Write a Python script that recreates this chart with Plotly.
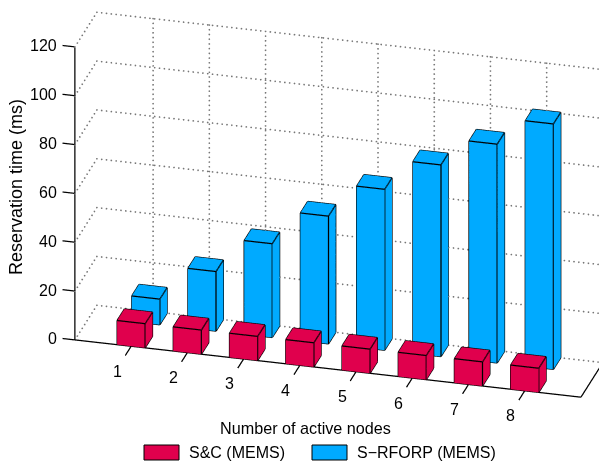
import math
import plotly.graph_objects as go

nodes = [1, 2, 3, 4, 5, 6, 7, 8]
sc_mems = [9.9, 9.9, 9.9, 9.9, 9.9, 9.9, 9.9, 9.9]
rforp_mems = [10.5, 24.4, 38.4, 52.3, 65.9, 78.5, 89.6, 100.5]
z_ticks = [0, 20, 40, 60, 80, 100, 120]
RED = "#E0004D"
BLUE = "#00AAFF"
FONT = "Liberation Sans"

AZ, EL = math.radians(15), math.radians(25)
XR, YR, ZR = [-0.25, 9.2], [0.35, 2.4], [-3, 123]
Y_FRONT, Y_BACK = 0.75, 2.25
S = 233.0  # px per scene unit
LX = 525 / 9 * (XR[1] - XR[0]) / S
LY = 85 / 1.5 * (YR[1] - YR[0]) / S
LZ = 2.7 * (ZR[1] - ZR[0]) / S
R = 1.5
PX_SHIFT, PY_SHIFT = 36.25, 25.1

right = (math.cos(AZ), math.sin(AZ), 0)
up = (-math.sin(AZ) * math.sin(EL), math.cos(AZ) * math.sin(EL), math.cos(EL))
d = (math.sin(AZ) * math.cos(EL), -math.cos(AZ) * math.cos(EL), math.sin(EL))
center = [-(PX_SHIFT * right[i] + PY_SHIFT * up[i]) / S for i in range(3)]
eye = [center[i] + d[i] * R for i in range(3)]


def bars(values, y_pos, color, name):
    xs, ys, zs, i, j, k, lx, ly, lz = [], [], [], [], [], [], [], [], []
    for n, v in zip(nodes, values):
        b = len(xs)
        x0, x1, y0, y1 = n - 0.25, n + 0.25, y_pos - 0.25, y_pos + 0.25
        xs += [x0, x1, x1, x0, x0, x1, x1, x0]
        ys += [y0, y0, y1, y1, y0, y0, y1, y1]
        zs += [0, 0, 0, 0, v, v, v, v]
        for t in [(0,1,2),(0,2,3),(4,5,6),(4,6,7),(0,1,5),(0,5,4),(1,2,6),(1,6,5),(2,3,7),(2,7,6),(3,0,4),(3,4,7)]:
            i.append(b + t[0]); j.append(b + t[1]); k.append(b + t[2])
        for e in [(0,1),(1,2),(2,3),(3,0),(4,5),(5,6),(6,7),(7,4),(0,4),(1,5),(2,6),(3,7)]:
            for q in e:
                lx.append(xs[b + q]); ly.append(ys[b + q]); lz.append(zs[b + q])
            lx.append(None); ly.append(None); lz.append(None)
    mesh = go.Mesh3d(x=xs, y=ys, z=zs, i=i, j=j, k=k, color=color, flatshading=True, name=name,
                     lighting=dict(ambient=1, diffuse=0, specular=0, roughness=1, fresnel=0),
                     hoverinfo="skip", showscale=False)
    edges = go.Scatter3d(x=lx, y=ly, z=lz, mode="lines", line=dict(color="black", width=2.5),
                         hoverinfo="skip", showlegend=False)
    return [mesh, edges]


def seg_trace(segs, color, width):
    lx, ly, lz = [], [], []
    for a, b in segs:
        lx += [a[0], b[0], None]; ly += [a[1], b[1], None]; lz += [a[2], b[2], None]
    return go.Scatter3d(x=lx, y=ly, z=lz, mode="lines", line=dict(color=color, width=width),
                        hoverinfo="skip", showlegend=False)


def dotted(segs, steps):
    px, py, pz = [], [], []
    for (a, b), n in zip(segs, steps):
        for t in range(n + 1):
            f = t / n
            px.append(a[0] + (b[0] - a[0]) * f)
            py.append(a[1] + (b[1] - a[1]) * f)
            pz.append(a[2] + (b[2] - a[2]) * f)
    return go.Scatter3d(x=px, y=py, z=pz, mode="markers",
                        marker=dict(size=1, color="#777777", line=dict(width=0)),
                        hoverinfo="skip", showlegend=False)


grid, steps = [], []
for z in z_ticks:
    grid.append(((0, Y_FRONT, z), (0, Y_BACK, z))); steps.append(9)
    grid.append(((0, Y_BACK, z), (9, Y_BACK, z))); steps.append(105)
for n in nodes:
    grid.append(((n, Y_BACK, 0), (n, Y_BACK, 120))); steps.append(62)

axes = [((0, Y_FRONT, 0), (9, Y_FRONT, 0)), ((0, Y_FRONT, 0), (0, Y_FRONT, 120)), ((9, Y_FRONT, 0), (9, Y_BACK, 0))]
for z in z_ticks:
    axes.append(((0, Y_FRONT, z), (-0.22, Y_FRONT, z)))
for n in nodes:
    axes.append(((n, Y_FRONT, 0), (n, 0.75 - 0.42, 0)))

fig = go.Figure()
fig.add_trace(dotted(grid, steps))
fig.add_trace(seg_trace(axes, "black", 2.5))
for t in bars(rforp_mems, 2, BLUE, "S-RFORP (MEMS)") + bars(sc_mems, 1, RED, "S&C (MEMS)"):
    fig.add_trace(t)

scene_ann = []
for z in z_ticks:
    scene_ann.append(dict(x=0, y=Y_FRONT, z=z, text=str(z), showarrow=False, xanchor="right", yanchor="middle",
                          xshift=-16, yshift=1, font=dict(family=FONT, size=16, color="black")))
for n in nodes:
    scene_ann.append(dict(x=n, y=Y_FRONT, z=0, text=str(n), showarrow=False, xanchor="center", yanchor="middle",
                          xshift=-14, yshift=-25, font=dict(family=FONT, size=16, color="black")))

hidden = dict(visible=False, showgrid=False, zeroline=False, showspikes=False, autorange=False)


def label(x, y, text, size=16, **kw):
    return dict(x=x / 599, y=1 - y / 465, xref="paper", yref="paper", text=text, showarrow=False,
                yanchor="middle", font=dict(family=FONT, size=size, color="black"), **kw)


fig.update_layout(
    width=599, height=465, margin=dict(l=0, r=0, t=0, b=0), paper_bgcolor="white", showlegend=False,
    scene=dict(
        domain=dict(x=[0, 1], y=[0, 1]),
        xaxis=dict(hidden, range=XR), yaxis=dict(hidden, range=YR), zaxis=dict(hidden, range=ZR),
        aspectmode="manual", aspectratio=dict(x=LX, y=LY, z=LZ),
        camera=dict(projection=dict(type="orthographic"), up=dict(x=0, y=0, z=1),
                    center=dict(x=center[0], y=center[1], z=center[2]),
                    eye=dict(x=eye[0], y=eye[1], z=eye[2])),
        annotations=scene_ann,
    ),
    annotations=[
        label(305.5, 428, "Number of active nodes", size=16.2, xanchor="center"),
        label(16, 187, "Reservation time (ms)", size=18, xanchor="center", textangle=-90),
        label(187, 452, "S&amp;C (MEMS)", xanchor="left"),
        label(355, 452, "S\u2212RFORP (MEMS)", xanchor="left"),
    ],
    shapes=[
        dict(type="rect", xref="paper", yref="paper", x0=144 / 599, x1=179 / 599, y0=1 - 460 / 465, y1=1 - 445 / 465,
             fillcolor=RED, line=dict(color="black", width=1)),
        dict(type="rect", xref="paper", yref="paper", x0=312 / 599, x1=347 / 599, y0=1 - 460 / 465, y1=1 - 445 / 465,
             fillcolor=BLUE, line=dict(color="black", width=1)),
    ],
)
fig.write_html("out.html", config={"displayModeBar": False},
               post_script="document.body.style.margin='0';document.documentElement.style.overflow='hidden';")
